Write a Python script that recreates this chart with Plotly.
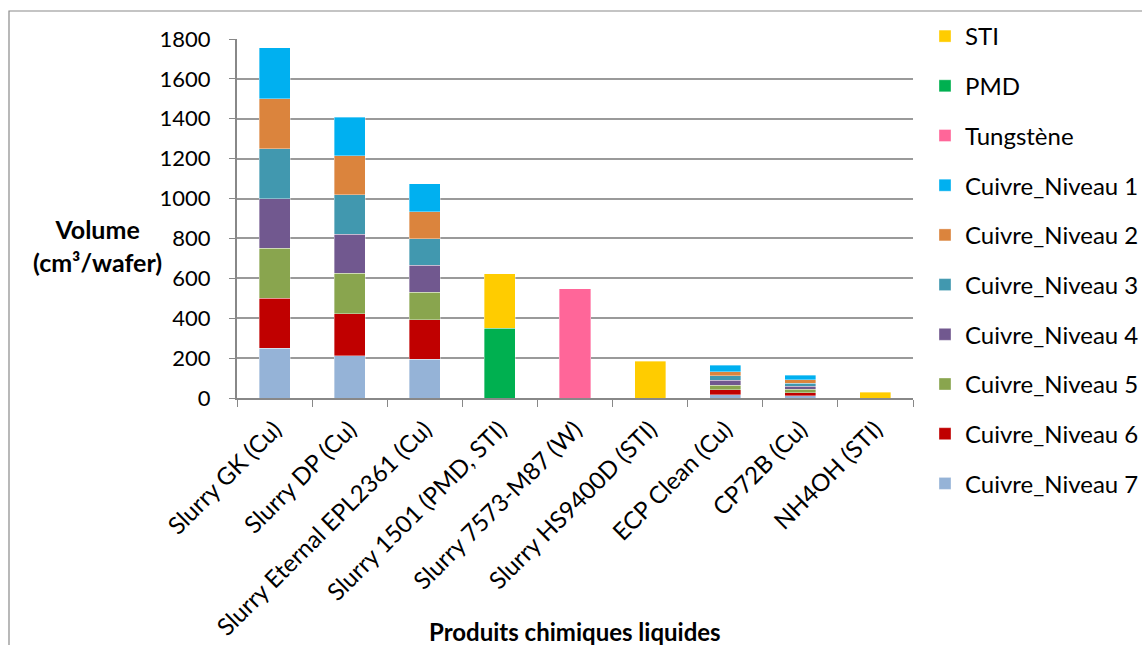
import plotly.graph_objects as go

categories = ["Slurry GK (Cu)", "Slurry DP (Cu)", "Slurry Eternal EPL2361 (Cu)",
              "Slurry 1501 (PMD, STI)", "Slurry 7573-M87 (W)", "Slurry HS9400D (STI)",
              "ECP Clean (Cu)", "CP72B (Cu)", "NH4OH (STI)"]

cuivre_7 = [250, 212, 194, None, None, None, 17, 12, None]
cuivre_6 = [250, 211, 199, None, None, None, 25, 15, None]
cuivre_5 = [250, 202, 137, None, None, None, 23, 18, None]
cuivre_4 = [250, 197, 135, None, None, None, 23, 15, None]
cuivre_3 = [250, 198, 134, None, None, None, 23, 15, None]
cuivre_2 = [250, 195, 134, None, None, None, 20, 17, None]
cuivre_1 = [255, 193, 142, None, None, None, 32, 23, None]
tungstene = [None, None, None, None, 548, None, None, None, None]
pmd = [None, None, None, 350, None, None, None, None, None]
sti = [None, None, None, 272, None, 184, None, None, 30]

y_ticks = [0, 200, 400, 600, 800, 1000, 1200, 1400, 1600, 1800]

# stacking order (bottom -> top); legend shows the reverse
series = [
    ("Cuivre_Niveau 7", cuivre_7, "#95B3D7"),
    ("Cuivre_Niveau 6", cuivre_6, "#C00000"),
    ("Cuivre_Niveau 5", cuivre_5, "#89A54E"),
    ("Cuivre_Niveau 4", cuivre_4, "#71588F"),
    ("Cuivre_Niveau 3", cuivre_3, "#4198AF"),
    ("Cuivre_Niveau 2", cuivre_2, "#DB843D"),
    ("Cuivre_Niveau 1", cuivre_1, "#00B0F0"),
    ("Tungstène", tungstene, "#FF6699"),
    ("PMD", pmd, "#00B050"),
    ("STI", sti, "#FFCC00"),
]

FONT = "Lato, 'Open Sans', sans-serif"
W, H = 1142, 645
L, R, T, B = 237, 229, 39, 247
PW, PH = W - L - R, H - T - B


def px_x(p):
    return (p - L) / PW


def px_y(p):
    return (H - B - p) / PH


fig = go.Figure()
n = len(series)
for i, (name, vals, color) in enumerate(series):
    fig.add_trace(go.Bar(
        x=categories, y=vals, name=name, legendgroup=name,
        legendrank=n - i,
        marker=dict(color=color, line=dict(color="rgba(255,255,255,0.6)", width=0.6)),
    ))

fig.update_layout(
    width=W, height=H,
    margin=dict(l=L, r=R, t=T, b=B, autoexpand=False),
    barmode="stack", bargap=0.587,
    paper_bgcolor="white", plot_bgcolor="white",
    font=dict(family=FONT, size=22, color="black"),
    showlegend=True,
    legend=dict(
        x=px_x(925), y=px_y(14), xanchor="left", yanchor="top",
        traceorder="grouped", tracegroupgap=15.5, maxheight=640,
        font=dict(family=FONT, size=24, color="black"),
        itemwidth=30, bgcolor="rgba(0,0,0,0)",
    ),
    xaxis=dict(
        tickangle=-45, tickson="boundaries", ticks="outside", ticklen=7,
        tickcolor="#888", showline=True, linecolor="#888", linewidth=2,
        showgrid=False, tickfont=dict(size=24), automargin=False,
        ticklabelstandoff=6,
    ),
    yaxis=dict(
        range=[0, 1800], tickvals=y_ticks, ticks="outside", ticklen=6,
        tickcolor="#888", showline=True, linecolor="#888", linewidth=2,
        showgrid=True, gridcolor="#9a9a9a", gridwidth=1.5,
        zeroline=False, tickfont=dict(size=22), ticklabelstandoff=14,
        automargin=False,
    ),
    annotations=[
        dict(text="<b>Volume<br>(cm³/wafer)</b>", xref="paper", yref="paper",
             x=px_x(97), y=px_y(245), xanchor="center", yanchor="middle",
             showarrow=False, font=dict(size=25)),
        dict(text="<b>Produits chimiques liquides</b>", xref="paper", yref="paper",
             x=px_x(575), y=px_y(631), xanchor="center", yanchor="middle",
             showarrow=False, font=dict(size=24)),
    ],
    shapes=[
        dict(type="rect", xref="paper", yref="paper",
             x0=px_x(9), x1=px_x(1160), y0=px_y(680), y1=px_y(11),
             line=dict(color="#8a8a8a", width=1.2), fillcolor="rgba(0,0,0,0)",
             layer="below"),
    ],
)

fig.write_html(
    "out.html",
    config={"displayModeBar": False},
    post_script="document.body.style.margin='0';document.body.style.padding='0';"
                "document.body.style.overflow='hidden';",
)
